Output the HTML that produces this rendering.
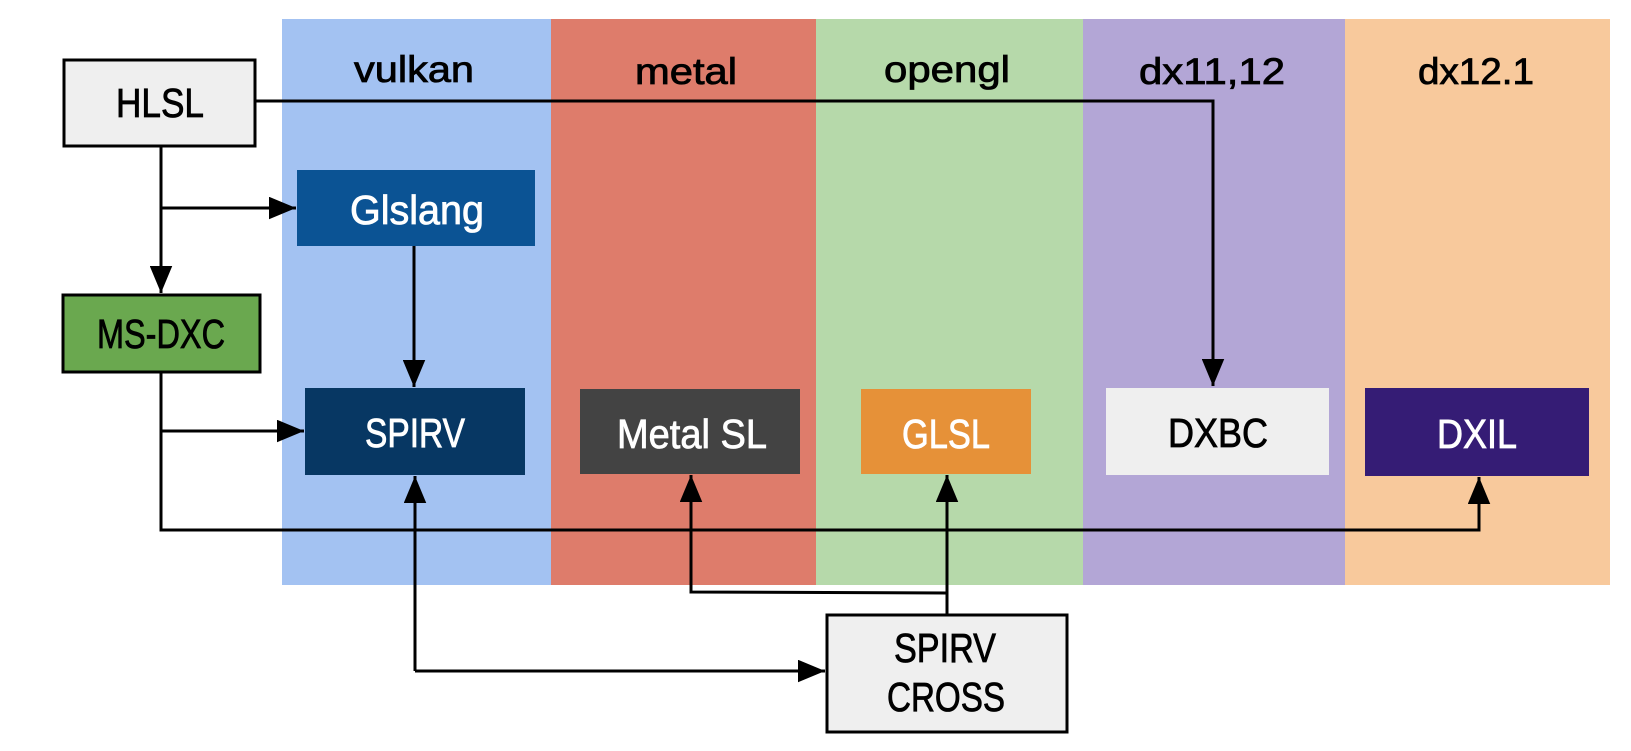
<!DOCTYPE html>
<html><head><meta charset="utf-8"><style>
html,body{margin:0;padding:0;background:#fff;}
svg{display:block;}
text{font-family:"Liberation Sans",sans-serif;stroke-width:0.8;}
</style></head><body>
<svg width="1631" height="751" viewBox="0 0 1631 751" xmlns="http://www.w3.org/2000/svg">
<defs>
<marker id="a" viewBox="0 0 12 10" refX="12" refY="5" markerWidth="9" markerHeight="7.5" orient="auto" markerUnits="strokeWidth">
<path d="M0,0 L12,5 L0,10 z" fill="#000"/></marker>
</defs>
<rect x="282" y="19" width="269" height="566" fill="#a3c2f2"/>
<rect x="551" y="19" width="265" height="566" fill="#de7c6b"/>
<rect x="816" y="19" width="267" height="566" fill="#b6d9aa"/>
<rect x="1083" y="19" width="262" height="566" fill="#b3a6d6"/>
<rect x="1345" y="19" width="265" height="566" fill="#f8c99c"/>
<g font-size="37" text-anchor="middle" fill="#000" stroke="#000">
<text x="414" y="82" textLength="120" lengthAdjust="spacingAndGlyphs">vulkan</text>
<text x="686" y="84" textLength="102" lengthAdjust="spacingAndGlyphs">metal</text>
<text x="947" y="82" textLength="126" lengthAdjust="spacingAndGlyphs">opengl</text>
<text x="1212" y="84" textLength="146" lengthAdjust="spacingAndGlyphs">dx11,12</text>
<text x="1476" y="84" textLength="116" lengthAdjust="spacingAndGlyphs">dx12.1</text>
</g>
<rect x="64" y="60" width="191" height="86" fill="#efefef" stroke="#000" stroke-width="3"/>
<rect x="63" y="295" width="197" height="77" fill="#6aa84f" stroke="#000" stroke-width="3"/>
<rect x="297" y="170" width="238" height="76" fill="#0b5394"/>
<rect x="305" y="388" width="220" height="87" fill="#073763"/>
<rect x="580" y="389" width="220" height="85" fill="#434343"/>
<rect x="861" y="389" width="170" height="85" fill="#e69138"/>
<rect x="1106" y="388" width="223" height="87" fill="#efefef"/>
<rect x="1365" y="388" width="224" height="88" fill="#351c75"/>
<rect x="827" y="615" width="240" height="117" fill="#efefef" stroke="#000" stroke-width="3"/>
<g font-size="41" text-anchor="middle">
<text x="160" y="117" fill="#000" stroke="#000" textLength="88" lengthAdjust="spacingAndGlyphs">HLSL</text>
<text x="161" y="348" fill="#000" stroke="#000" textLength="128" lengthAdjust="spacingAndGlyphs">MS-DXC</text>
<text x="417" y="224" fill="#fff" stroke="#fff" textLength="134" lengthAdjust="spacingAndGlyphs">Glslang</text>
<text x="415" y="447" fill="#fff" stroke="#fff" textLength="100" lengthAdjust="spacingAndGlyphs">SPIRV</text>
<text x="692" y="448" fill="#fff" stroke="#fff" textLength="150" lengthAdjust="spacingAndGlyphs">Metal SL</text>
<text x="946" y="448" fill="#fff" stroke="#fff" textLength="88" lengthAdjust="spacingAndGlyphs">GLSL</text>
<text x="1218" y="447" fill="#000" stroke="#000" textLength="100" lengthAdjust="spacingAndGlyphs">DXBC</text>
<text x="1477" y="448" fill="#fff" stroke="#fff" textLength="80" lengthAdjust="spacingAndGlyphs">DXIL</text>
<text x="945" y="662" fill="#000" stroke="#000" textLength="102" lengthAdjust="spacingAndGlyphs">SPIRV</text>
<text x="946" y="711" fill="#000" stroke="#000" textLength="118" lengthAdjust="spacingAndGlyphs">CROSS</text>
</g>
<g stroke="#000" stroke-width="3" fill="none">
<polyline points="255,101 1213,101 1213,386" marker-end="url(#a)"/>
<polyline points="161,146 161,293" marker-end="url(#a)"/>
<polyline points="161,208 296,208" marker-end="url(#a)"/>
<polyline points="414,246 414,387" marker-end="url(#a)"/>
<polyline points="161,372 161,530 1479,530 1479,477" marker-end="url(#a)"/>
<polyline points="161,431 304,431" marker-end="url(#a)"/>
<polyline points="415,671 415,476" marker-end="url(#a)"/>
<polyline points="415,671 825,671" marker-end="url(#a)"/>
<polyline points="947,614 947,475" marker-end="url(#a)"/>
<polyline points="947,593 691,592 691,475" marker-end="url(#a)"/>
</g>
</svg>
</body></html>
